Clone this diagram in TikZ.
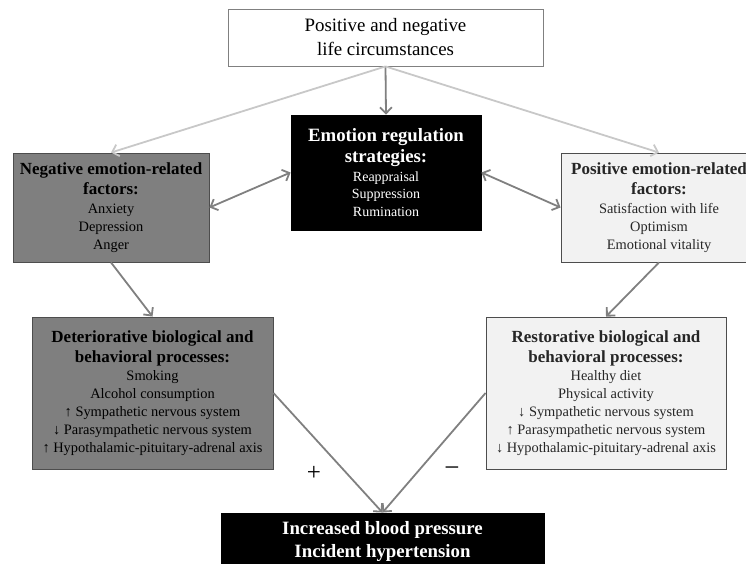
\documentclass[tikz,border=0pt]{standalone}
\usepackage{fontspec}
\setmainfont{Liberation Serif}
\usetikzlibrary{arrows.meta,shadows}
\definecolor{darkfill}{HTML}{7F7F7F}
\definecolor{lightfill}{HTML}{F2F2F2}
\definecolor{edgegray}{HTML}{4D4D4D}
\definecolor{arrowgray}{HTML}{808080}
\definecolor{lightarrow}{HTML}{C8C8C8}
\newcommand\ttlfont{\fontsize{17}{20}\selectfont\bfseries}
\newcommand\bdyfont{\fontsize{14.4}{18}\selectfont\mdseries}
\newcommand\bigttl{\fontsize{18.8}{23}\selectfont\bfseries}
\newcommand\erbody{\fontsize{14}{17.5}\selectfont\mdseries}
\begin{document}
\begin{tikzpicture}[x=1pt,y=-1pt,
  box/.style={draw=edgegray, line width=0.9pt, align=center, inner sep=0pt,
    drop shadow={shadow xshift=1.2pt, shadow yshift=-1.2pt, opacity=0.35}},
  darkbox/.style={box, fill=darkfill, text=black, font=\bdyfont},
  lightbox/.style={box, fill=lightfill, text=black!85, font=\bdyfont},
  blackbox/.style={box, draw=black, fill=black, text=white},
  conn/.style={draw=arrowgray, line width=1.8pt, -{Straight Barb[length=6pt,width=12pt]}},
  lightconn/.style={draw=lightarrow, line width=1.8pt, -{Straight Barb[length=6pt,width=12pt]}},
  dblconn/.style={draw=arrowgray, line width=1.8pt, {Straight Barb[length=6pt,width=12pt]}-{Straight Barb[length=6pt,width=12pt]}},
  sign/.style={text=black}
]
\useasboundingbox (0,0) rectangle (746,564);
\clip (0,0) rectangle (746,564);

\node[box, fill=white, draw=arrowgray, text=black, minimum width=315pt, minimum height=57pt,
  font=\fontsize{18.9}{23}\selectfont] (top) at (385.5,37.5)
  {Positive and negative\\[1pt] life circumstances};

\node[blackbox, font=\erbody, minimum width=190pt, minimum height=115pt] (er) at (386,172.5)
  {\bigttl Emotion regulation\\[4pt] \bigttl strategies:\\[1pt] Reappraisal\\ Suppression\\ Rumination};

\node[darkbox, minimum width=196pt, minimum height=109pt] (neg) at (111,207.5)
  {\ttlfont Negative emotion-related\\[2pt] \ttlfont factors:\\[1pt] Anxiety\\ Depression\\ Anger};

\node[lightbox, minimum width=196pt, minimum height=109pt] (pos) at (659,207.5)
  {\ttlfont Positive emotion-related\\[2pt] \ttlfont factors:\\[1pt] Satisfaction with life\\ Optimism\\ Emotional vitality};

\node[darkbox, minimum width=241pt, minimum height=152pt] (det) at (152.5,393)
  {\ttlfont Deteriorative biological and\\[2pt] \ttlfont behavioral processes:\\ Smoking\\ Alcohol consumption\\ ↑ Sympathetic nervous system\\ ↓ Parasympathetic nervous system\\ ↑ Hypothalamic-pituitary-adrenal axis};

\node[lightbox, minimum width=240pt, minimum height=152pt] (res) at (606,393)
  {\ttlfont Restorative biological and\\[2pt] \ttlfont behavioral processes:\\ Healthy diet\\ Physical activity\\ ↓ Sympathetic nervous system\\ ↑ Parasympathetic nervous system\\ ↓ Hypothalamic-pituitary-adrenal axis};

\node[blackbox, font=\bigttl, minimum width=323pt, minimum height=58pt] (bp) at (382.5,542)
  {Increased blood pressure\\ Incident hypertension};

\node[sign, font=\fontsize{25}{26}\selectfont] (plus) at (314,473) {+};
\node[sign, font=\fontsize{27}{28}\selectfont] (minus) at (452,472) {−};

\draw[conn] (top.south) -- (er.north);
\draw[lightconn] (top.south) -- (neg.north);
\draw[lightconn] (top.south) -- (pos.north);
\draw[dblconn] (neg.east) -- (er.west);
\draw[dblconn] (er.east) -- (pos.west);
\draw[conn] (neg.south) -- (det.north);
\draw[conn] (pos.south) -- (res.north);
\draw[conn] (det.east) -- (bp.north);
\draw[conn] (res.west) -- (bp.north);
\end{tikzpicture}
\end{document}
